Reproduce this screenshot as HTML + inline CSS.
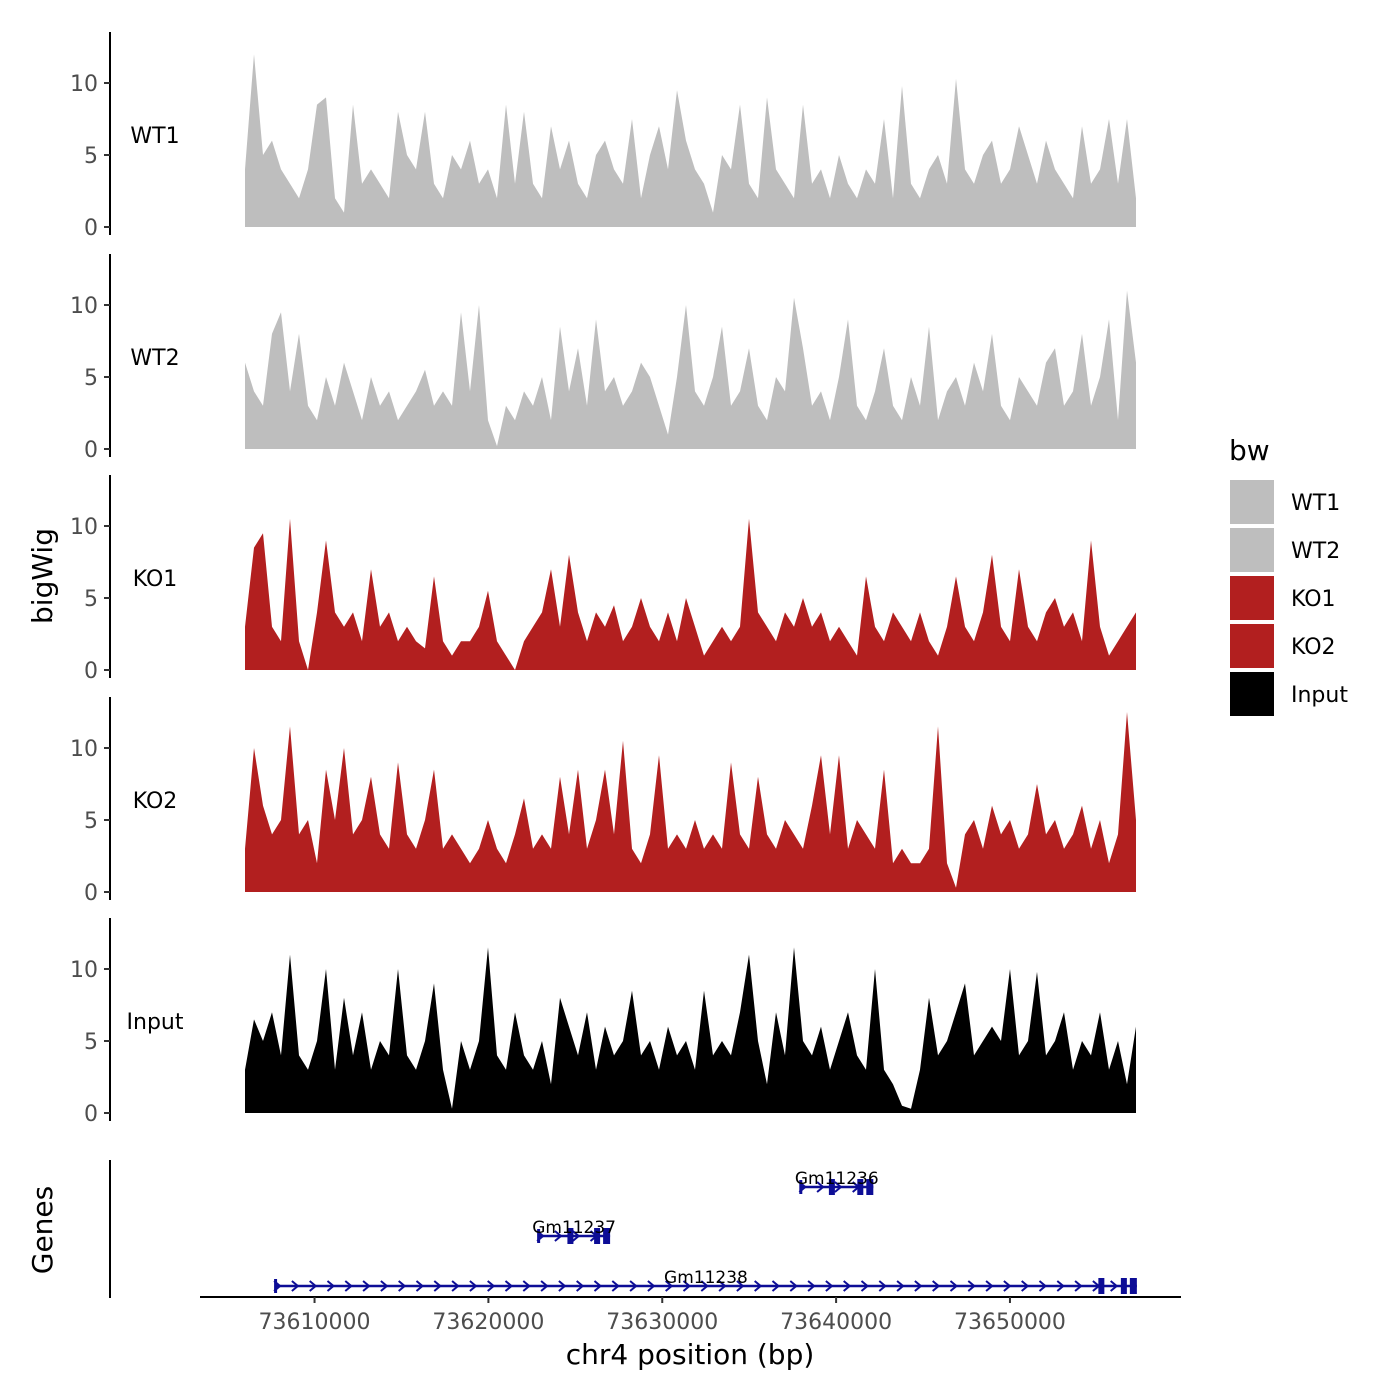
<!DOCTYPE html>
<html>
<head>
<meta charset="utf-8">
<style>
html,body{margin:0;padding:0;background:#fff;}
svg{display:block;font-family:"DejaVu Sans","Liberation Sans",sans-serif;}
</style>
</head>
<body>
<svg id="chart" width="1400" height="1400" viewBox="0 0 1400 1400" xmlns="http://www.w3.org/2000/svg">
<g id="tracks"></g>
<g id="genes"></g>
<g id="xaxis"></g>
<text x="52" y="576" font-size="28" text-anchor="middle" transform="rotate(-90 52 576)">bigWig</text>
<text x="52" y="1230" font-size="28" text-anchor="middle" transform="rotate(-90 52 1230)">Genes</text>
<text x="690" y="1364" font-size="28" text-anchor="middle">chr4 position (bp)</text>
<g id="legend"></g>
</svg>
<script>
const trackNames = ["WT1","WT2","KO1","KO2","Input"];
const trackColors = ["#bebebe","#bebebe","#b21f1f","#b21f1f","#000000"];
const WT1 = [4,12,5,6,4,3,2,4,8.5,9,2,1,8.5,3,4,3,2,8,5,4,8,3,2,5,4,6,3,4,2,8.5,3,8,3,2,7,4,6,3,2,5,6,4,3,7.5,2,5,7,4,9.5,6,4,3,1,5,4,8.5,3,2,9,4,3,2,8.5,3,4,2,5,3,2,4,3,7.5,2,9.8,3,2,4,5,3,10.3,4,3,5,6,3,4,7,5,3,6,4,3,2,7,3,4,7.5,3,7.5,2];
const WT2 = [6,4,3,8,9.5,4,8,3,2,5,3,6,4,2,5,3,4,2,3,4,5.5,3,4,3,9.5,4,10,2,0.2,3,2,4,3,5,2,8.5,4,7,3,9,4,5,3,4,6,5,3,1,5,10,4,3,5,8.5,3,4,7,3,2,5,4,10.5,7,3,4,2,5,9,3,2,4,7,3,2,5,3,8.5,2,4,5,3,6,4,8,3,2,5,4,3,6,7,3,4,8,3,5,9,2,11,6];
const KO1 = [3,8.5,9.5,3,2,10.5,2,0,4,9,4,3,4,2,7,3,4,2,3,2,1.5,6.5,2,1,2,2,3,5.5,2,1,0,2,3,4,7,3,8,4,2,4,3,4.5,2,3,5,3,2,4,2,5,3,1,2,3,2,3,10.5,4,3,2,4,3,5,3,4,2,3,2,1,6.5,3,2,4,3,2,4,2,1,3,6.5,3,2,4,8,3,2,7,3,2,4,5,3,4,2,9,3,1,2,3,4];
const KO2 = [3,10,6,4,5,11.5,4,5,2,8.5,5,10,4,5,8,4,3,9,4,3,5,8.5,3,4,3,2,3,5,3,2,4,6.5,3,4,3,8,4,8.5,3,5,8.5,4,10.5,3,2,4,9.5,3,4,3,5,3,4,3,9,4,3,8,4,3,5,4,3,6,9.5,4,9.5,3,5,4,3,8.5,2,3,2,2,3,11.5,2,0.3,4,5,3,6,4,5,3,4,7.5,4,5,3,4,6,3,5,2,4,12.5,5];
const Input = [3,6.5,5,7,4,11,4,3,5,10,3,8,4,7,3,5,4,10,4,3,5,9,3,0.3,5,3,5,11.5,4,3,7,4,3,5,2,8,6,4,7,3,6,4,5,8.5,4,5,3,6,4,5,3,8.5,4,5,4,7,11,5,2,7,4,11.5,5,4,6,3,5,7,4,3,10,3,2,0.5,0.3,3,8,4,5,7,9,4,5,6,5,10,4,5,9.8,4,5,7,3,5,4,7,3,5,2,6];
const trackValues = [WT1,WT2,KO1,KO2,Input];
const yTicks = [0,5,10];
const xTicks = [73610000,73620000,73630000,73640000,73650000];
const regionStart = 73606000, regionEnd = 73657250;
const geneNames = ["Gm11236","Gm11237","Gm11238"];
const geneStarts = [73637940,73622860,73607730];
const geneEnds = [73642140,73627000,73657300];
const geneMidExons = [73639700,73624660,73655200];
const geneRows = [0,1,2];

const NS="http://www.w3.org/2000/svg";
function el(tag,attrs,parent){const e=document.createElementNS(NS,tag);for(const k in attrs)e.setAttribute(k,attrs[k]);parent.appendChild(e);return e;}
const xScale = bp => 245 + (bp-regionStart)/(regionEnd-regionStart)*(1136-245);
const panelZero = [227,449,670,892,1113];
const yScale = (p,v) => panelZero[p] - v*14.4;

const tracks=document.getElementById('tracks');
trackValues.forEach((vals,p)=>{
  const g=el('g',{},tracks);
  
  
  const n=vals.length;
  let d='M'+xScale(regionStart)+','+panelZero[p];
  vals.forEach((v,i)=>{const bp=regionStart+i*(regionEnd-regionStart)/(n-1);d+=' L'+xScale(bp).toFixed(1)+','+yScale(p,v).toFixed(1);});
  d+=' L'+xScale(regionEnd)+','+panelZero[p]+' Z';
  const a=el('path',{d:d,fill:trackColors[p]},g);
  
  
  const ax=el('line',{x1:110,x2:110,y1:panelZero[p]-195,y2:panelZero[p]+8,stroke:'#000','stroke-width':2},g);
  
  
  yTicks.forEach(t=>{
    const y=yScale(p,t);
    el('line',{x1:104,x2:110,y1:y,y2:y,stroke:'#333','stroke-width':2},g);
    const tx=el('text',{x:98,y:y+8,'font-size':22,fill:'#4d4d4d','text-anchor':'end'},g);
    tx.textContent=t;
    
    
  });
  const lb=el('text',{x:155,y:panelZero[p]-84,'font-size':22,'text-anchor':'middle'},g);
  lb.textContent=trackNames[p];
  
  
});

// genes
const genes=document.getElementById('genes');
el('line',{x1:110,x2:110,y1:1160,y2:1298,stroke:'#000','stroke-width':2},genes);
const rowY=[1187,1236,1286];
const blue='#0d0d96';
geneNames.forEach((name,i)=>{
  const g=el('g',{},genes);
  
  
  const y=rowY[geneRows[i]];
  const x1=xScale(geneStarts[i]),x2=xScale(geneEnds[i]),xm=xScale(geneMidExons[i]);
  el('line',{x1:x1,x2:x2,y1:y,y2:y,stroke:blue,'stroke-width':2.5},g);
  for(let x=x1+2;x<x2-10;x+=17.8){el('path',{d:`M${x-3},${y-5} L${x+3},${y} L${x-3},${y+5}`,fill:'none',stroke:blue,'stroke-width':2},g);}
  el('rect',{x:x1-1,y:y-7,width:3,height:14,fill:blue},g);
  el('rect',{x:xm-2,y:y-8,width:6,height:16,fill:blue},g);
  el('rect',{x:x2-16,y:y-8,width:6,height:16,fill:blue},g);
  el('rect',{x:x2-7,y:y-8,width:7,height:16,fill:blue},g);
  const t=el('text',{x:(x1+x2)/2,y:y-3,'font-size':17,'text-anchor':'middle'},g);
  t.textContent=name;
  
  
});

// x axis
const xa=document.getElementById('xaxis');
el('line',{x1:200,x2:1181,y1:1297,y2:1297,stroke:'#000','stroke-width':2},xa);
xTicks.forEach(t=>{
  const x=xScale(t);
  el('line',{x1:x,x2:x,y1:1297,y2:1303,stroke:'#333','stroke-width':2},xa);
  const tx=el('text',{x:x,y:1329,'font-size':22,fill:'#4d4d4d','text-anchor':'middle'},xa);
  tx.textContent=t;
  
  
});

// legend
const lg=document.getElementById('legend');
const lt=el('text',{x:1229,y:460,'font-size':28},lg);
lt.textContent='bw';


trackNames.forEach((n,i)=>{
  const g=el('g',{},lg);
  
  
  const y=480+i*48;
  el('rect',{x:1230,y:y,width:44,height:44,fill:trackColors[i]},g);
  const t=el('text',{x:1291,y:y+30,'font-size':22},g);
  t.textContent=n;
});
</script>
</body>
</html>
